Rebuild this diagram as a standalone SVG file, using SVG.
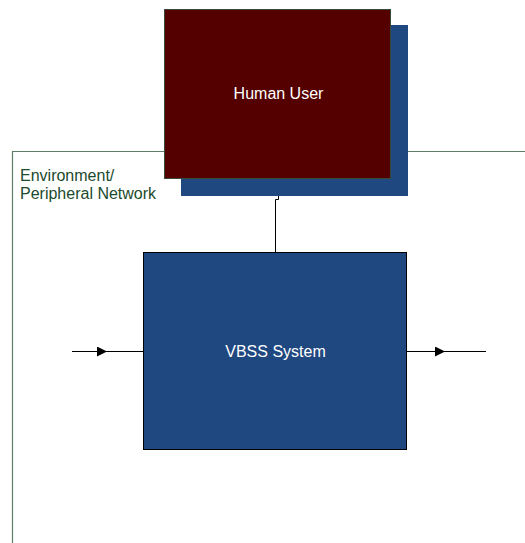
<svg xmlns="http://www.w3.org/2000/svg" width="525" height="543" viewBox="0 0 525 543">
  <style>
    .label { font-family: "Liberation Sans", Arial, sans-serif; font-size: 16px; }
    .white { fill: #ffffff; }
    .env { fill: #1c4a2c; }
    .wire { fill: none; stroke: #000000; stroke-width: 1; }
  </style>
  <defs>
    <marker id="arrow" viewBox="0 0 10 10" refX="10" refY="5" markerWidth="10" markerHeight="10" markerUnits="userSpaceOnUse" orient="auto">
      <path d="M0,0 L10,5 L0,10 z" fill="#000000"/>
    </marker>
  </defs>
  <rect width="525" height="543" fill="#ffffff"/>

  <!-- environment boundary -->
  <g id="environment">
    <path d="M12.5,543 V151.5 H525" fill="none" stroke="#5e7e66" stroke-width="1.2"/>
    <text class="label env" x="20" y="181">Environment/</text>
    <text class="label env" x="20" y="199">Peripheral Network</text>
  </g>

  <!-- connectors -->
  <g id="connectors">
    <path class="wire" d="M278.5,179 V199.5 H275.5 V252"/>
    <line class="wire" x1="72" y1="351.5" x2="143" y2="351.5"/>
    <line class="wire" x1="72" y1="351.5" x2="107" y2="351.5" marker-end="url(#arrow)"/>
    <line class="wire" x1="406" y1="351.5" x2="486" y2="351.5"/>
    <line class="wire" x1="406" y1="351.5" x2="445" y2="351.5" marker-end="url(#arrow)"/>
  </g>

  <!-- human user with offset backing panel -->
  <g id="human-user">
    <rect x="181" y="25" width="227" height="171" fill="#1f4780"/>
    <rect x="164.5" y="9.5" width="226" height="169" fill="#550000" stroke="#3a4a3a" stroke-width="1"/>
    <text class="label white" x="278.5" y="99" text-anchor="middle">Human User</text>
  </g>

  <!-- system block -->
  <g id="vbss-system">
    <rect x="143.5" y="252.5" width="263" height="197" fill="#1f4780" stroke="#000000" stroke-width="1"/>
    <text class="label white" x="275.5" y="357" text-anchor="middle">VBSS System</text>
  </g>
</svg>
